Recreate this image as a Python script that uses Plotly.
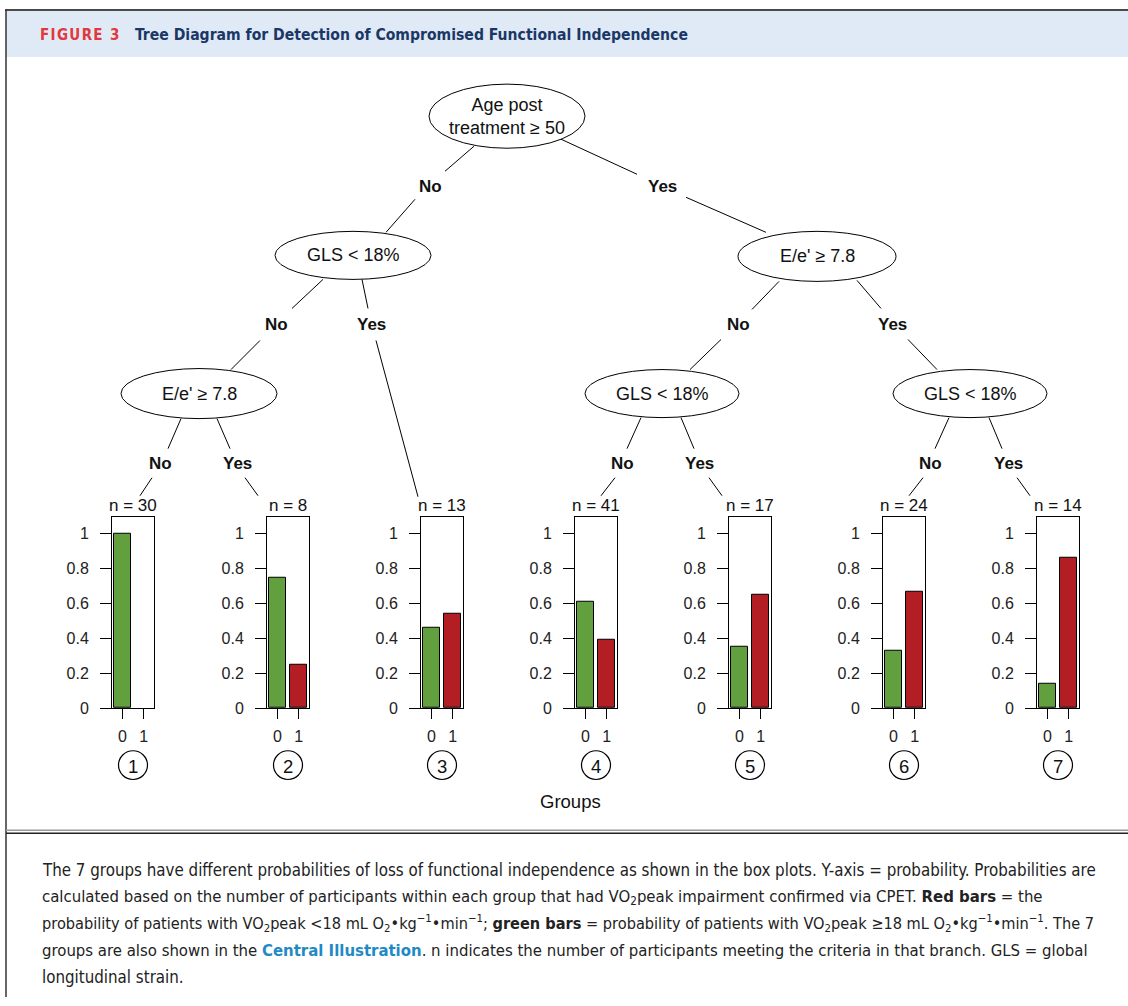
import plotly.graph_objects as go

# ---------------- data ----------------
groups = ["1", "2", "3", "4", "5", "6", "7"]
n_counts = [30, 8, 13, 41, 17, 24, 14]
prob_0 = [1.00, 0.75, 0.46, 0.61, 0.35, 0.33, 0.14]   # green bars (VO2peak >= 18)
prob_1 = [0.00, 0.25, 0.54, 0.39, 0.65, 0.67, 0.86]   # red bars (VO2peak < 18)
bar_cats = [0, 1]
bar_labels = ["0", "1"]
ytick_vals = [0, 0.2, 0.4, 0.6, 0.8, 1]
ytick_text = ["0", "0.2", "0.4", "0.6", "0.8", "1"]

node_texts = ["Age post<br>treatment ≥ 50", "GLS &lt; 18%", "E/e' ≥ 7.8",
              "E/e' ≥ 7.8", "GLS &lt; 18%", "GLS &lt; 18%"]
edge_texts = ["No", "Yes", "No", "Yes", "No", "Yes",
              "No", "Yes", "No", "Yes", "No", "Yes"]

fig_label = "F\u200aI\u200aG\u200aU\u200aR\u200aE\u2009 3"
fig_title = "Tree Diagram for Detection of Compromised Functional Independence"
x_title = "Groups"
caption_lines = [
    "The 7 groups have different probabilities of loss of functional independence as shown in the box plots. Y-axis = probability. Probabilities are",
    "calculated based on the number of participants within each group that had VO<sub>2</sub>peak impairment confirmed via CPET. <b>Red bars</b> = the",
    "probability of patients with VO<sub>2</sub>peak &lt;18 mL O<sub>2</sub>•kg<sup>−1</sup>•min<sup>−1</sup>; <b>green bars</b> = probability of patients with VO<sub>2</sub>peak ≥18 mL O<sub>2</sub>•kg<sup>−1</sup>•min<sup>−1</sup>. The 7",
    "groups are also shown in the <b><span style='color:#1f8ac4'>Central Illustration</span></b>. n indicates the number of participants meeting the criteria in that branch. GLS = global",
    "longitudinal strain.",
]

# ---------------- layout / style ----------------
W, H = 1128, 1006
YS = 1.0105                      # vertical layout stretch


def Y(v):
    return v * YS


GREEN = "#62a03f"
RED = "#b21e24"
TREE_FONT = "Liberation Sans, Arial, sans-serif"
CAP_FONT = "DejaVu Sans Condensed, Roboto, sans-serif"
cap_sizes = [16.8, 16.6, 16.2, 16.6, 16.8]

panel_left = [112, 267, 421, 575, 729, 883, 1037]
panel_w = 42
panel_top, panel_bot = Y(516), Y(707)
n_label_y = Y(505)
circle_y, circle_r = Y(764), 14.5

# tree nodes: center x, center y, rx, ry
nodes = [(507, 116, 78, 32), (353, 255, 78, 24), (817, 256, 79, 25),
         (199, 393, 78, 25), (662, 393, 77, 24), (970, 393, 77, 24)]
edge_label_pos = [(430, 186), (662, 186), (276, 324), (371, 324), (738, 324), (892, 324),
                  (160, 463), (237, 463), (622, 463), (699, 463), (930, 463), (1008, 463)]
edge_segments = [
    [(474, 146), (445, 171), (415, 199), (386, 232)],
    [(561, 139), (637, 174), (686, 197), (766, 232)],
    [(323, 279), (292, 308), (260, 340), (231, 369)],
    [(362, 279), (368, 308), (376, 340), (418, 496)],
    [(779, 281), (752, 309), (721, 339), (690, 369)],
    [(857, 280), (881, 308), (908, 339), (937, 369)],
    [(181, 418), (168, 448), (152, 477), (140, 495)],
    [(217, 418), (230, 448), (245, 477), (258, 495)],
    [(641, 417), (627, 448), (615, 477), (601, 495)],
    [(681, 417), (694, 448), (709, 477), (722, 495)],
    [(949, 417), (935, 448), (923, 477), (909, 495)],
    [(989, 417), (1002, 448), (1017, 477), (1030, 495)],
]

fig = go.Figure()
# invisible trace on full-page base axes (pixel coordinates)
fig.add_trace(go.Scatter(x=[0], y=[0], mode="markers", marker=dict(opacity=0),
                         hoverinfo="skip", showlegend=False, xaxis="x", yaxis="y"))

shapes = []
annotations = []

# frame / header
shapes.append(dict(type="rect", xref="x", yref="y", x0=6, x1=W, y0=10, y1=Y(57),
                   fillcolor="#dfeaf6", line=dict(width=0), layer="below"))
shapes.append(dict(type="line", xref="x", yref="y", x0=5, x1=W, y0=10, y1=10,
                   line=dict(color="#4a4a4a", width=2)))
shapes.append(dict(type="line", xref="x", yref="y", x0=6, x1=6, y0=10, y1=H,
                   line=dict(color="#333333", width=1.5)))
shapes.append(dict(type="line", xref="x", yref="y", x0=6, x1=W, y0=Y(829), y1=Y(829),
                   line=dict(color="#9a9a9a", width=1.5)))
shapes.append(dict(type="line", xref="x", yref="y", x0=6, x1=W, y0=Y(832), y1=Y(832),
                   line=dict(color="#222222", width=1.5)))

annotations.append(dict(xref="x", yref="y", x=38, y=Y(35), xanchor="left", yanchor="middle",
                        text="<b>" + fig_label + "</b>", showarrow=False,
                        font=dict(family=CAP_FONT, size=15, color="#e2383d")))
annotations.append(dict(xref="x", yref="y", x=133, y=Y(35), xanchor="left", yanchor="middle",
                        text="<b>" + fig_title + "</b>", showarrow=False,
                        font=dict(family=CAP_FONT, size=15.6, color="#1b3766")))

# tree nodes
for (cx, cy, rx, ry), txt in zip(nodes, node_texts):
    shapes.append(dict(type="circle", xref="x", yref="y", x0=cx - rx, x1=cx + rx,
                       y0=Y(cy - ry), y1=Y(cy + ry), fillcolor="white",
                       line=dict(color="black", width=1)))
    annotations.append(dict(xref="x", yref="y", x=cx, y=Y(cy), text=txt, showarrow=False,
                            font=dict(family=TREE_FONT, size=18, color="#111"),
                            xanchor="center", yanchor="middle"))

# tree edges
for segs, (lx, ly), txt in zip(edge_segments, edge_label_pos, edge_texts):
    for a, b in [(segs[0], segs[1]), (segs[2], segs[3])]:
        shapes.append(dict(type="line", xref="x", yref="y", x0=a[0], y0=Y(a[1]),
                           x1=b[0], y1=Y(b[1]), line=dict(color="black", width=1)))
    annotations.append(dict(xref="x", yref="y", x=lx, y=Y(ly), text="<b>" + txt + "</b>",
                            showarrow=False, xanchor="center", yanchor="middle",
                            font=dict(family=TREE_FONT, size=17, color="#111")))

# bar panels
layout_axes = {}
for i in range(len(groups)):
    k = i + 2
    lo = panel_left[i]
    cx = lo + panel_w / 2
    vals = [prob_0[i], prob_1[i]]
    fig.add_trace(go.Bar(x=bar_cats, y=vals, width=0.833,
                         marker=dict(color=[GREEN, RED],
                                     line=dict(color="black",
                                               width=[1 if v > 0 else 0 for v in vals])),
                         showlegend=False, hoverinfo="skip",
                         xaxis="x%d" % k, yaxis="y%d" % k))
    layout_axes["xaxis%d" % k] = dict(
        domain=[lo / W, (lo + panel_w) / W], anchor="y%d" % k, range=[-0.49, 1.49],
        tickvals=bar_cats, ticktext=bar_labels, ticks="outside", ticklen=10,
        tickcolor="black", tickwidth=1, showline=True, mirror=True, linecolor="black",
        linewidth=1, showgrid=False, zeroline=False, ticklabelstandoff=4,
        tickfont=dict(family=TREE_FONT, size=16, color="#222"), fixedrange=True)
    layout_axes["yaxis%d" % k] = dict(
        domain=[1 - panel_bot / H, 1 - panel_top / H], anchor="x%d" % k, range=[0, 1.098],
        tickvals=ytick_vals, ticktext=ytick_text, ticks="outside", ticklen=11,
        tickcolor="black", tickwidth=1, showline=True, mirror=True, linecolor="black",
        linewidth=1, showgrid=False, zeroline=False, ticklabelstandoff=8,
        tickfont=dict(family=TREE_FONT, size=16, color="#222"), fixedrange=True)
    annotations.append(dict(xref="x", yref="y", x=cx, y=n_label_y,
                            text="n = %d" % n_counts[i], showarrow=False,
                            xanchor="center", yanchor="middle",
                            font=dict(family=TREE_FONT, size=17, color="#111")))
    shapes.append(dict(type="circle", xref="x", yref="y", x0=cx - circle_r, x1=cx + circle_r,
                       y0=circle_y - circle_r, y1=circle_y + circle_r,
                       line=dict(color="black", width=1.2)))
    annotations.append(dict(xref="x", yref="y", x=cx, y=circle_y + 1, text=groups[i],
                            showarrow=False, xanchor="center", yanchor="middle",
                            font=dict(family=TREE_FONT, size=18.5, color="#111")))

annotations.append(dict(xref="x", yref="y", x=570, y=Y(800), text=x_title, showarrow=False,
                        xanchor="center", yanchor="middle",
                        font=dict(family=TREE_FONT, size=18.5, color="#111")))

# caption
cap_y = [869, 896, 922, 949, 976]
for yy, line, sz in zip(cap_y, caption_lines, cap_sizes):
    annotations.append(dict(xref="x", yref="y", x=40, y=Y(yy), text=line, showarrow=False,
                            xanchor="left", yanchor="middle", align="left",
                            font=dict(family=CAP_FONT, size=sz, color="#222")))

fig.update_layout(
    width=W, height=H, margin=dict(l=0, r=0, t=0, b=0),
    paper_bgcolor="white", plot_bgcolor="rgba(0,0,0,0)",
    showlegend=False, bargap=0,
    xaxis=dict(domain=[0, 1], range=[0, W], visible=False, fixedrange=True),
    yaxis=dict(domain=[0, 1], range=[H, 0], visible=False, fixedrange=True),
    shapes=shapes, annotations=annotations,
    **layout_axes,
)

fig.write_html("out.html", config={"displayModeBar": False, "responsive": False})

# remove default page margins so the figure fills the window exactly
css = ("<style>html,body{margin:0;padding:0;overflow:hidden;width:1128px;height:1006px;"
       "font-size:0;line-height:0;}"
       ".plotly-graph-div{position:absolute;top:0;left:0;}</style>")
with open("out.html", "r", encoding="utf-8") as f:
    html = f.read()
html = html.replace("<head>", "<head>" + css, 1)
with open("out.html", "w", encoding="utf-8") as f:
    f.write(html)
